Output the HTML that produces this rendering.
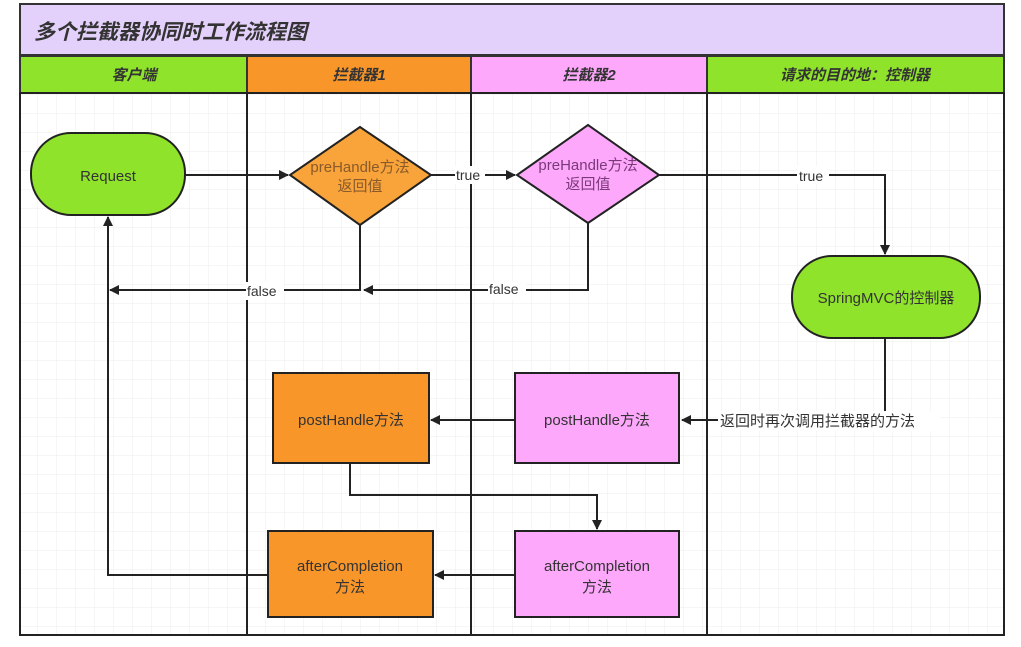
<!DOCTYPE html>
<html><head><meta charset="utf-8"><style>
body{margin:0;background:#fff;width:1021px;height:642px;overflow:hidden}
svg text{font-family:"Liberation Sans","Noto Sans CJK SC",sans-serif}
</style></head><body>
<svg width="1021" height="642" viewBox="0 0 1021 642" xmlns="http://www.w3.org/2000/svg">
<defs>
<pattern id="g" width="19" height="19" patternUnits="userSpaceOnUse"><path d="M19 0V19H0" fill="none" stroke="#ececec" stroke-width="1"/></pattern>
<marker id="a" markerWidth="10" markerHeight="10" refX="9" refY="5" orient="auto" markerUnits="userSpaceOnUse"><path d="M0,0 L10,5 L0,10 Z" fill="#222"/></marker>
</defs>
<rect x="20" y="93" width="984" height="542" fill="url(#g)"/>
<rect x="20" y="4" width="984" height="51" fill="#e4d1fb" stroke="#333" stroke-width="2"/>
<text x="34" y="39" font-size="21" font-style="italic" font-weight="bold" fill="#333">多个拦截器协同时工作流程图</text>
<rect x="20" y="56" width="227" height="37" fill="#8fe32b" stroke="#333" stroke-width="2"/>
<rect x="247" y="56" width="224" height="37" fill="#f8962a" stroke="#333" stroke-width="2"/>
<rect x="471" y="56" width="236" height="37" fill="#fea8fc" stroke="#333" stroke-width="2"/>
<rect x="707" y="56" width="297" height="37" fill="#8fe32b" stroke="#333" stroke-width="2"/>
<g font-size="15" font-style="italic" font-weight="bold" fill="#333" text-anchor="middle">
<text x="134" y="80">客户端</text><text x="359" y="80">拦截器1</text><text x="589" y="80">拦截器2</text><text x="855" y="80">请求的目的地：控制器</text></g>
<g stroke="#222" stroke-width="2" fill="none">
<rect x="20" y="93" width="984" height="542"/>
<line x1="247" y1="93" x2="247" y2="635"/><line x1="471" y1="93" x2="471" y2="635"/><line x1="707" y1="93" x2="707" y2="635"/>
<path d="M185 175H288" marker-end="url(#a)"/>
<path d="M431 175H515" marker-end="url(#a)"/>
<path d="M659 175H885V254" marker-end="url(#a)"/>
<path d="M360 225V290H110" marker-end="url(#a)"/>
<path d="M588 223V290H364" marker-end="url(#a)"/>
<path d="M268 575H108V217" marker-end="url(#a)"/>
<path d="M885 338V420H682" marker-end="url(#a)"/>
<path d="M515 420H431" marker-end="url(#a)"/>
<path d="M350 463V495H597V529" marker-end="url(#a)"/>
<path d="M515 575H435" marker-end="url(#a)"/>
</g>
<rect x="31" y="133" width="154" height="82" rx="40" fill="#8fe32b" stroke="#222" stroke-width="2"/>
<polygon points="360,127 431,175 360,225 290,175" fill="#f8a43a" stroke="#222" stroke-width="2"/>
<polygon points="588,125 659,175 588,223 517,175" fill="#fea8fc" stroke="#222" stroke-width="2"/>
<rect x="792" y="256" width="188" height="82" rx="40" fill="#8fe32b" stroke="#222" stroke-width="2"/>
<rect x="273" y="373" width="156" height="90" fill="#f8962a" stroke="#222" stroke-width="2"/>
<rect x="515" y="373" width="164" height="90" fill="#fea8fc" stroke="#222" stroke-width="2"/>
<rect x="268" y="531" width="165" height="86" fill="#f8962a" stroke="#222" stroke-width="2"/>
<rect x="515" y="531" width="164" height="86" fill="#fea8fc" stroke="#222" stroke-width="2"/>
<g font-size="15" fill="#333" text-anchor="middle">
<text x="108" y="181">Request</text>
<text x="360" y="172" fill="#8a5a2a">preHandle方法</text><text x="360" y="191" fill="#8a5a2a">返回值</text>
<text x="588" y="170" fill="#7a3a7a">preHandle方法</text><text x="588" y="189" fill="#7a3a7a">返回值</text>
<text x="886" y="303">SpringMVC的控制器</text>
<text x="351" y="425">postHandle方法</text>
<text x="597" y="425">postHandle方法</text>
<text x="350" y="571">afterCompletion</text><text x="350" y="592">方法</text>
<text x="597" y="571">afterCompletion</text><text x="597" y="592">方法</text>
</g>
<g font-size="14" fill="#333">
<rect x="455" y="166" width="30" height="18" fill="#fff"/><text x="456" y="180">true</text>
<rect x="797" y="166" width="32" height="18" fill="#fff"/><text x="799" y="181">true</text>
<rect x="246" y="282" width="38" height="18" fill="#fff"/><text x="247" y="296">false</text>
<rect x="488" y="282" width="38" height="18" fill="#fff"/><text x="489" y="294">false</text>
<rect x="718" y="411" width="222" height="20" fill="#fff"/><text x="720" y="426" font-size="15">返回时再次调用拦截器的方法</text>
</g>
</svg>
</body></html>
